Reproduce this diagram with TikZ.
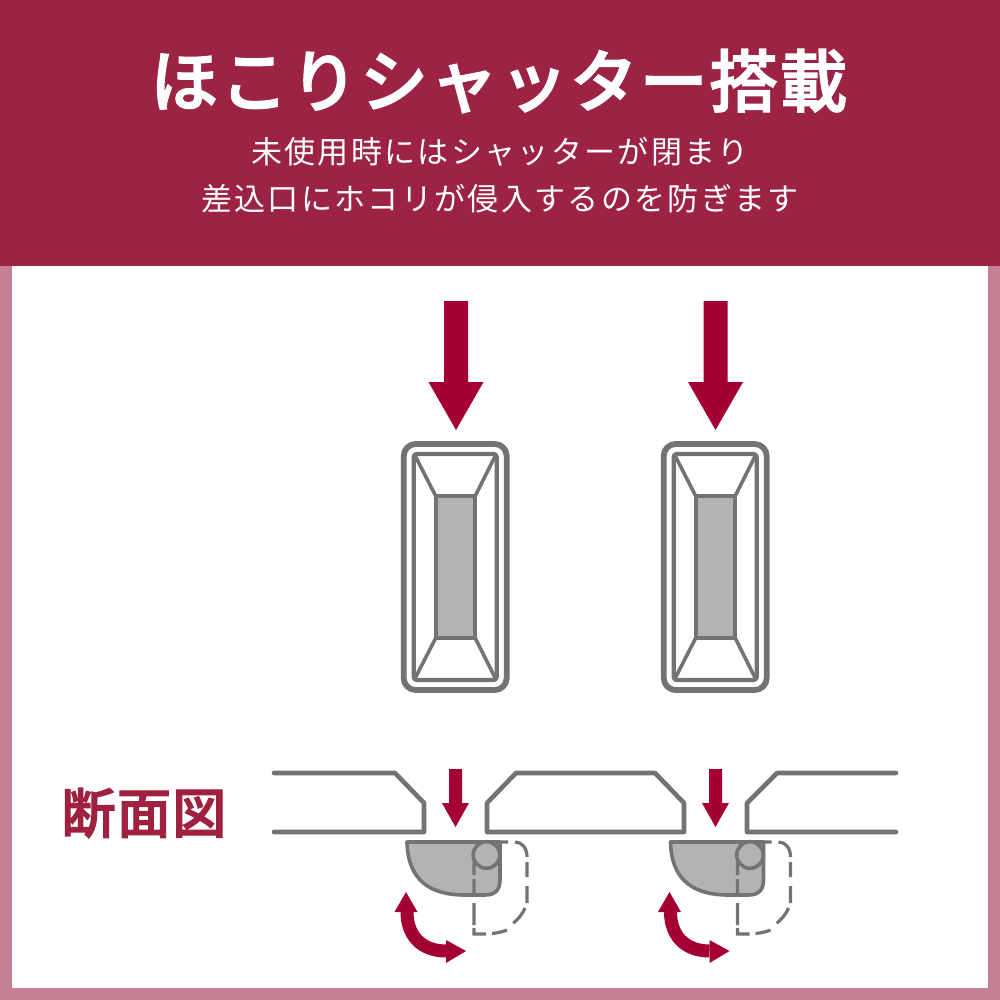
\documentclass[tikz,border=0pt]{standalone}
\usepackage{fontspec}
\newfontfamily\cjkt{Noto Sans CJK JP Medium}[LetterSpace=2.8,FakeBold=2]
\newfontfamily\cjkb{Noto Sans CJK JP}[LetterSpace=7.5]
\newfontfamily\cjkl{Noto Sans CJK JP Medium}[LetterSpace=2.5,FakeBold=2.2]
\definecolor{hdr}{HTML}{9C2344}
\definecolor{bord}{HTML}{C77F93}
\definecolor{arr}{HTML}{A50034}
\definecolor{lin}{HTML}{737373}
\definecolor{fil}{HTML}{B3B3B4}
\definecolor{lab}{HTML}{A0203F}
\tikzset{
 plate/.style={draw=lin,line width=4.6pt,line join=round,line cap=round},
 slotline/.style={draw=lin,line width=4.2pt,line join=round},
 shut/.style={draw=lin,line width=3.6pt,line join=round},
 dashline/.style={draw=lin,line width=3.2pt},
 title/.style={text=white,font=\cjkt\fontsize{68}{68}\selectfont,inner sep=0pt},
 sub/.style={text=white,font=\cjkb\fontsize{31}{31}\selectfont,inner sep=0pt},
 pics/bigarrow/.style={code={
  \fill[arr] (-12,0) -- (12,0) -- (12,81) -- (27.5,81) -- (0,129) -- (-27.5,81) -- (-12,81) -- cycle;}},
 pics/slot/.style={code={
  \draw[slotline,line width=5.8pt,rounded corners=12pt] (0,0) rectangle (103,246);
  \draw[slotline,rounded corners=3pt] (10,10) rectangle (93,236);
  \draw[slotline,fill=fil] (32,52) rectangle (71.5,194);
  \draw[slotline,line width=3.6pt] (11,11) -- (32,52) (92,11) -- (71.5,52) (11,235) -- (32,194) (92,235) -- (71.5,194);}},
 pics/smallarrow/.style={code={
  \fill[arr] (-6.5,0) -- (6.5,0) -- (6.5,34) -- (13.5,34) -- (0,58) -- (-13.5,34) -- (-6.5,34) -- cycle;}},
 pics/shutter/.style={code={
  \draw[shut,fill=fil] (0,0) -- (93,0) -- (93,38) .. controls (93,48) and (88,53) .. (78,53) -- (58,53) .. controls (25,53) and (1,40) .. cycle;
  \draw[shut,fill=fil] (79.5,13) circle (13.3);
  \draw[dashline] (86,0) -- (101,0)
    (108,0) .. controls (115,0) and (120,6) .. (120,15)
    (120,20) -- (120,35) (120,44) -- (120,61)
    (118,66) .. controls (115,73) and (111,77) .. (106.3,81.3)
    (100,88) .. controls (95,90) and (90,91) .. (85,91.5)
    (79,92) -- (67,92) -- (67,86)
    (67,83) -- (67,61) (67,53) -- (67,37) (67,33) -- (67,20);
  \draw[line width=13pt,draw=arr] (0,70) .. controls (0,93) and (14,109) .. (39,109);
  \fill[arr] (-1,50) -- (10.5,70) -- (-12.5,70) -- cycle;
  \fill[arr] (59,109) -- (39,98) -- (39,121) -- cycle;}},
}
\begin{document}
\begin{tikzpicture}[x=1pt,y=-1pt]
\useasboundingbox (0,0) rectangle (1000,1000);
\fill[white] (0,0) rectangle (1000,1000);
\fill[bord] (0,266) rectangle (12,1000);
\fill[bord] (988,266) rectangle (1000,1000);
\fill[bord] (0,988) rectangle (1000,1000);
\fill[hdr] (0,0) rectangle (1000,266);
\node[title] (t1) at (499,81) {ほこりシャッター搭載};
\node[sub] (t2) at (500,152) {未使用時にはシャッターが閉まり};
\node[sub] (t3) at (500,199) {差込口にホコリが侵入するのを防ぎます};
\node[text=lab,inner sep=0pt,font=\cjkl\fontsize{54}{54}\selectfont] (t4) at (144,813) {断面図};
\pic at (456,301) {bigarrow};
\pic at (715.5,301) {bigarrow};
\pic at (403.7,444) {slot};
\pic at (663.7,444) {slot};
\draw[plate] (274,773) -- (395,773) -- (424,803) -- (424,832) -- (274,832);
\draw[plate] (487,832) -- (487,803) -- (516,773) -- (655,773) -- (684,803) -- (684,832) -- cycle;
\draw[plate] (896,773) -- (777,773) -- (747,803) -- (747,832) -- (896,832);
\pic at (455.5,769) {smallarrow};
\pic at (715.5,769) {smallarrow};
\pic at (407,842) {shutter};
\pic at (670.5,842) {shutter};
\end{tikzpicture}
\end{document}
